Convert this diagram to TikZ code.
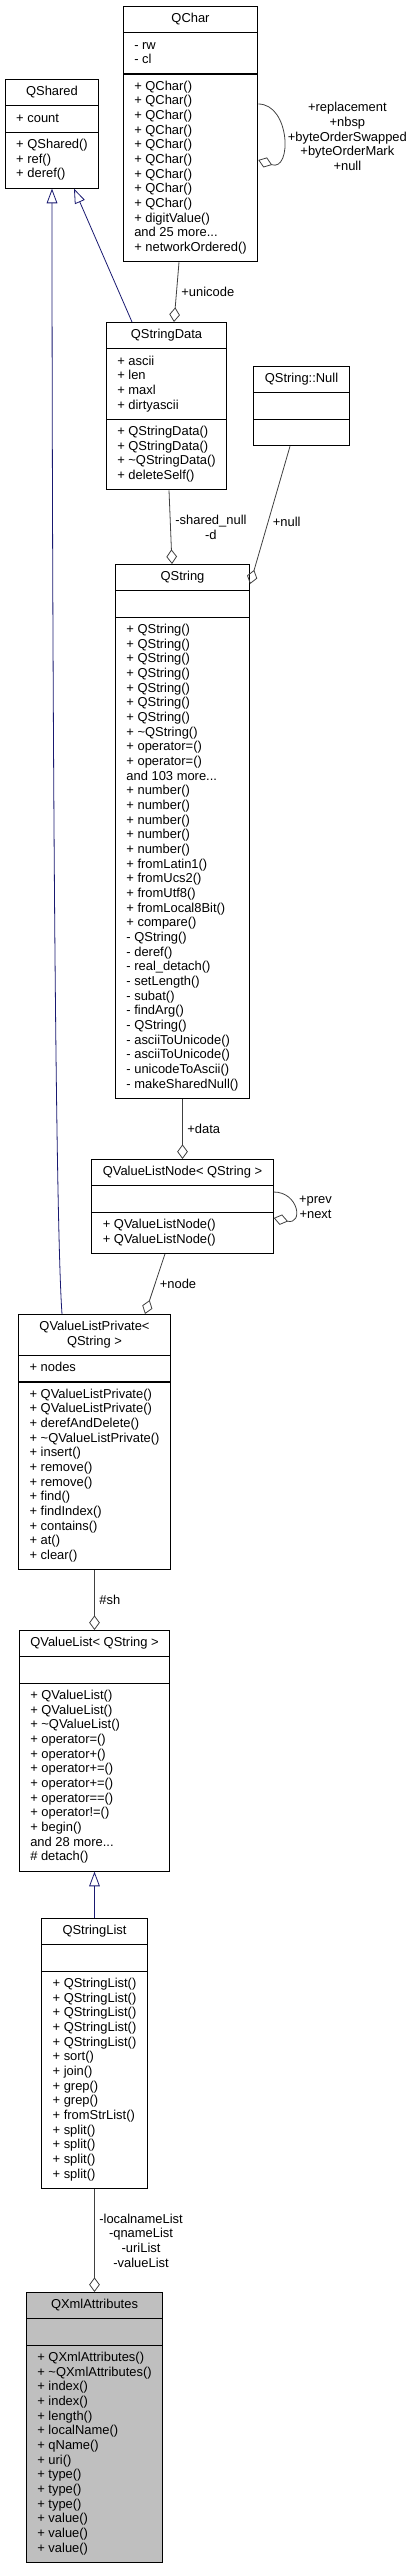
\documentclass[tikz,border=0pt]{standalone}
\usepackage{fontspec}
\setmainfont{Liberation Sans}
\usetikzlibrary{shapes.multipart,arrows.meta,calc}
\definecolor{midnight}{RGB}{25,25,112}
\definecolor{edgegrey}{RGB}{64,64,64}

\begin{document}
\begin{tikzpicture}[x=0.75pt,y=-0.75pt,
	classbox/.style={rectangle split, rectangle split parts=3, rectangle split part align={center,left,left}, draw=black, line width=0.8pt, inner xsep=8.25pt, inner ysep=4pt, align=left, anchor=north},
	usage/.style={draw=edgegrey, line width=0.6pt, -{Diamond[open,length=11pt,width=8pt]}},
	inherit/.style={draw=midnight, line width=0.6pt, -{Triangle[open,length=11pt,width=8pt]}},
	lbl/.style={align=center}]
	\tikzstyle{every node}+=[font=\fontsize{9.7}{11}\selectfont]
	\useasboundingbox (0,0) rectangle (407,2565);
	\node[classbox] (qshared) at (52,79) {\strut QShared\strut
		\nodepart{two}\strut+ count\strut
		\nodepart{three}\strut+ QShared()\\+ ref()\\+ deref()\strut};
	\node[classbox] (qchar) at (190.5,6) {\strut QChar\strut
		\nodepart{two}\strut- rw\\- cl\strut
		\nodepart{three}\strut+ QChar()\\+ QChar()\\+ QChar()\\+ QChar()\\+ QChar()\\+ QChar()\\+ QChar()\\+ QChar()\\+ QChar()\\+ digitValue()\\and 25 more...\\+ networkOrdered()\strut};
	\node[classbox] (qstringdata) at (166.5,322) {\strut QStringData\strut
		\nodepart{two}\strut+ ascii\\+ len\\+ maxl\\+ dirtyascii\strut
		\nodepart{three}\strut+ QStringData()\\+ QStringData()\\+ \textasciitilde QStringData()\\+ deleteSelf()\strut};
	\node[classbox] (qstringnull) at (301.5,366) {\strut QString::Null\strut
		\nodepart{two}\strut
		\nodepart{three}\strut};
	\node[classbox] (qstring) at (182.5,564) {\strut QString\strut
		\nodepart{two}\strut
		\nodepart{three}\strut+ QString()\\+ QString()\\+ QString()\\+ QString()\\+ QString()\\+ QString()\\+ QString()\\+ \textasciitilde QString()\\+ operator=()\\+ operator=()\\and 103 more...\\+ number()\\+ number()\\+ number()\\+ number()\\+ number()\\+ fromLatin1()\\+ fromUcs2()\\+ fromUtf8()\\+ fromLocal8Bit()\\+ compare()\\- QString()\\- deref()\\- real\_detach()\\- setLength()\\- subat()\\- findArg()\\- QString()\\- asciiToUnicode()\\- asciiToUnicode()\\- unicodeToAscii()\\- makeSharedNull()\strut};
	\node[classbox] (qvlnode) at (182.5,1159) {\strut QValueListNode< QString >\strut
		\nodepart{two}\strut
		\nodepart{three}\strut+ QValueListNode()\\+ QValueListNode()\strut};
	\node[classbox] (qvlpriv) at (94.5,1314) {\begin{tabular}{@{}c@{}}QValueListPrivate<\\QString >\end{tabular}
		\nodepart{two}\strut+ nodes\strut
		\nodepart{three}\strut+ QValueListPrivate()\\+ QValueListPrivate()\\+ derefAndDelete()\\+ \textasciitilde QValueListPrivate()\\+ insert()\\+ remove()\\+ remove()\\+ find()\\+ findIndex()\\+ contains()\\+ at()\\+ clear()\strut};
	\node[classbox] (qvlist) at (94.5,1630) {\strut QValueList< QString >\strut
		\nodepart{two}\strut
		\nodepart{three}\strut+ QValueList()\\+ QValueList()\\+ \textasciitilde QValueList()\\+ operator=()\\+ operator+()\\+ operator+=()\\+ operator+=()\\+ operator==()\\+ operator!=()\\+ begin()\\and 28 more...\\\# detach()\strut};
	\node[classbox] (qstrlist) at (94.5,1918) {\strut QStringList\strut
		\nodepart{two}\strut
		\nodepart{three}\strut+ QStringList()\\+ QStringList()\\+ QStringList()\\+ QStringList()\\+ QStringList()\\+ sort()\\+ join()\\+ grep()\\+ grep()\\+ fromStrList()\\+ split()\\+ split()\\+ split()\\+ split()\strut};
	\node[classbox, fill=black!25] (qxmlattr) at (94.5,2292) {\strut QXmlAttributes\strut
		\nodepart{two}\strut
		\nodepart{three}\strut+ QXmlAttributes()\\+ \textasciitilde QXmlAttributes()\\+ index()\\+ index()\\+ length()\\+ localName()\\+ qName()\\+ uri()\\+ type()\\+ type()\\+ type()\\+ value()\\+ value()\\+ value()\strut};
	\draw[inherit] ($(qstringdata.north)+(-34.5,0)$) -- ($(qshared.south)+(22,0)$);
	\draw[inherit] ($(qvlpriv.north)+(-32.5,0)$) .. controls +(-8,-110) and +(0,300) .. (qshared.south);
	\draw[usage] ($(qchar.south)+(-11.5,0)$) -- node[lbl,right] {+unicode} ($(qstringdata.north)+(7.5,0)$);
	\draw[usage] ($(qchar.north east)+(0,98)$) .. controls +(32,0) and +(34,12) .. node[lbl,right] {+replacement\\+nbsp\\+byteOrderSwapped\\+byteOrderMark\\+null} ($(qchar.north east)+(0,154)$);
	\draw[usage] ($(qstringdata.south)+(2.5,0)$) -- node[lbl,right] {-shared\_null\\-d} ($(qstring.north)+(-10.5,0)$);
	\draw[usage] ($(qstringnull.south)+(-11.5,0)$) -- node[lbl,right,pos=0.55] {+null} ($(qstring.north east)+(0,20)$);
	\draw[usage] (qstring.south) -- node[lbl,right] {+data} (qvlnode.north);
	\draw[usage] ($(qvlnode.north east)+(0,33)$) .. controls +(25,0) and +(30,7) .. node[lbl,right] {+prev\\+next} ($(qvlnode.north east)+(0,59)$);
	\draw[usage] ($(qvlnode.south)+(-17.5,0)$) -- node[lbl,right] {+node} ($(qvlpriv.north)+(50.5,0)$);
	\draw[usage] (qvlpriv.south) -- node[lbl,right] {\#sh} (qvlist.north);
	\draw[inherit] (qstrlist.north) -- (qvlist.south);
	\draw[usage] (qstrlist.south) -- node[lbl,right] {-localnameList\\-qnameList\\-uriList\\-valueList} (qxmlattr.north);
\end{tikzpicture}
\end{document}
